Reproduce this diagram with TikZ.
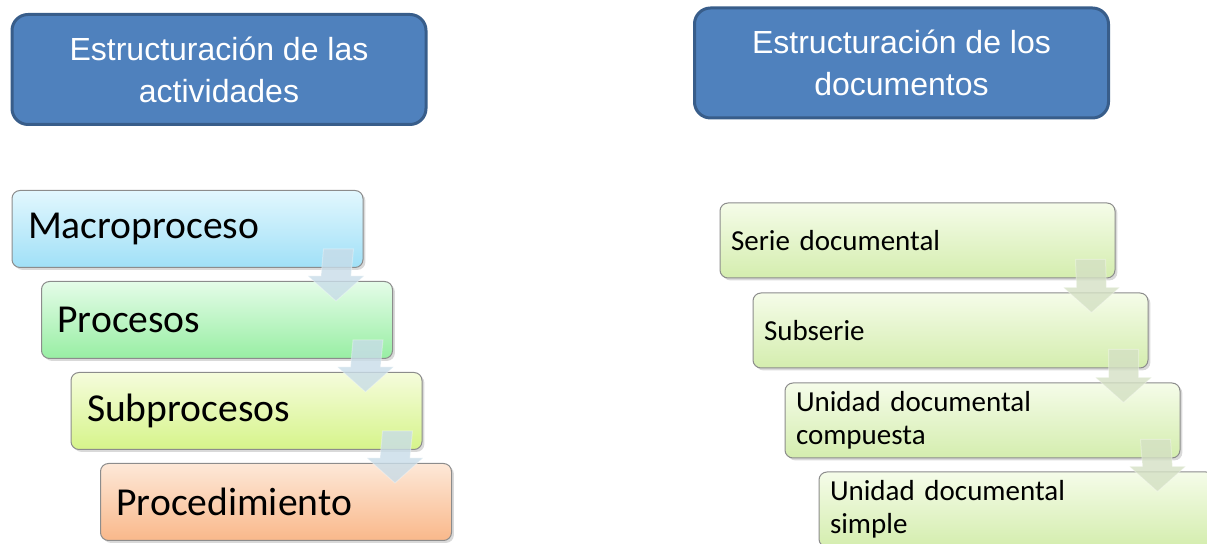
\documentclass[tikz,border=0pt]{standalone}
\usepackage{fontspec}
\setmainfont{Carlito}
\newfontfamily\headfont{Liberation Sans}
\usetikzlibrary{calc,shadows}
\definecolor{hdrfill}{RGB}{79,129,189}
\definecolor{hdrline}{RGB}{56,93,138}
\definecolor{cyantop}{RGB}{226,247,254}\definecolor{cyanbot}{RGB}{160,224,247}
\definecolor{greentop}{RGB}{228,252,232}\definecolor{greenbot}{RGB}{152,238,163}
\definecolor{limetop}{RGB}{245,252,220}\definecolor{limebot}{RGB}{214,244,138}
\definecolor{peachtop}{RGB}{253,232,216}\definecolor{peachbot}{RGB}{249,184,138}
\definecolor{sagetop}{RGB}{245,252,233}\definecolor{sagebot}{RGB}{212,237,174}
\definecolor{arrowblue}{RGB}{200,220,232}
\definecolor{arrowsage}{RGB}{212,224,196}
\tikzset{
  hdr/.style={draw=hdrline, line width=1.5pt, fill=hdrfill, rounded corners=8pt, text=white,
    minimum width=207pt, minimum height=55pt, align=center, font=\headfont\fontsize{16}{21}\selectfont},
  listbox/.style={draw=black!45, line width=0.5pt, rounded corners=4pt,
    drop shadow={shadow xshift=1.2pt, shadow yshift=-1.2pt, opacity=0.3},
    minimum width=175.5pt, minimum height=38.5pt, inner xsep=8pt, text width=159.5pt, align=left,
    font=\fontsize{19.8}{23}\selectfont},
  docbox/.style={listbox, minimum width=197.5pt, minimum height=37.5pt, inner xsep=5.5pt, text width=186.5pt,
    top color=sagetop, bottom color=sagebot, font=\fontsize{14.5}{16.5}\selectfont},
  flowarrow/.style={fill=#1, fill opacity=0.8, draw=white, draw opacity=0.3, line width=0.5pt}
}
\begin{document}
\begin{tikzpicture}[x=0.5pt,y=-0.5pt]
  \useasboundingbox (0,0) rectangle (1207,544);
  \node[hdr] (h1) at (219,69.5) {Estructuración de las\\actividades};
  \node[hdr] (h2) at (901.5,63) {Estructuración de los\\documentos};
  \node[listbox, top color=cyantop, bottom color=cyanbot] (m1) at (187.5,229) {Macroproceso};
  \node[listbox, top color=greentop, bottom color=greenbot] (m2) at (217,320) {Procesos};
  \node[listbox, top color=limetop, bottom color=limebot] (m3) at (246.5,411) {Subprocesos};
  \node[listbox, top color=peachtop, bottom color=peachbot] (m4) at (276,502) {Procedimiento};
  \node[docbox] (s1) at (917.5,240.5) {Serie documental};
  \node[docbox] (s2) at (950.5,330.5) {Subserie};
  \node[docbox] (s3) at (982.5,420.5) {Unidad documental\\compuesta};
  \node[docbox] (s4) at (1016.5,509.5) {Unidad documental\\simple};
  \foreach \a/\b/\c in {m1/m2/arrowblue, m2/m3/arrowblue, m3/m4/arrowblue, s1/s2/arrowsage, s2/s3/arrowsage, s3/s4/arrowsage} {
    \coordinate (tp) at ($(\a.south east)+(-25,-19)$);
    \coordinate (tip) at ($(\b.north east)+(-57,20)$);
    \path[flowarrow=\c] ($(tp)+(-15,0)$) -- ($(tp)+(15,0)$) -- ($(tip)+(15,-25)$) -- ($(tip)+(28,-25)$)
      -- (tip) -- ($(tip)+(-28,-25)$) -- ($(tip)+(-15,-25)$) -- cycle;
  }
\end{tikzpicture}
\end{document}
